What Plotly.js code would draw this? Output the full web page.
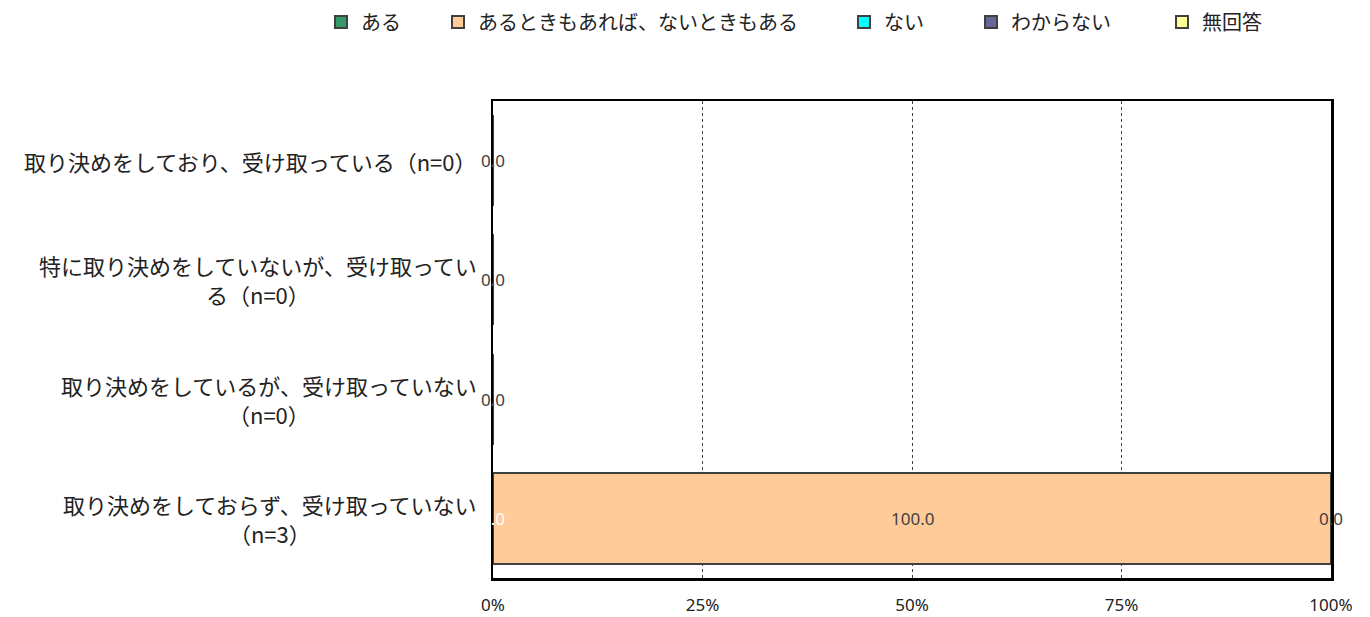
<!DOCTYPE html>
<html>
<head>
<meta charset="utf-8">
<script src="https://cdn.plot.ly/plotly-3.0.1.min.js"></script>
<style>
  html, body { margin: 0; padding: 0; background: #ffffff; }
  #chart { width: 1370px; height: 617px; }
</style>
</head>
<body>
<div id="chart"></div>
<script>
// ---- data ----
const categories = [
  "取り決めをしており、受け取っている（n=0）",
  "特に取り決めをしていないが、受け取ってい<br>る（n=0）",
  "取り決めをしているが、受け取っていない<br>（n=0）",
  "取り決めをしておらず、受け取っていない<br>（n=3）"
];
const seriesNames = ["ある", "あるときもあれば、ないときもある", "ない", "わからない", "無回答"];
const aru        = [0, 0, 0, 0];
const arutokimo  = [0, 0, 0, 100];
const nai        = [0, 0, 0, 0];
const wakaranai  = [0, 0, 0, 0];
const mukaito    = [0, 0, 0, 0];
const tickVals   = [0, 25, 50, 75, 100];
const tickText   = ["0%", "25%", "50%", "75%", "100%"];

// ---- styles ----
const seriesValues = [aru, arutokimo, nai, wakaranai, mukaito];
const colors = ["#339966", "#FFCC99", "#00FFFF", "#666699", "#FFFF99"];
const labelColors = ["#ffffff", "#404040", "#404040", "#404040", "#404040"];
const legendNames = ["legend", "legend2", "legend3", "legend4", "legend5"];
const legendPx = [321, 438, 844, 971, 1162];

const plotLeft = 493, plotRight = 1331, plotTop = 101, plotBottom = 578;
const plotW = plotRight - plotLeft, plotH = plotBottom - plotTop;

const traces = seriesValues.map((vals, i) => ({
  type: "bar",
  orientation: "h",
  name: seriesNames[i],
  y: categories,
  x: vals,
  marker: { color: colors[i], line: { color: "#404040", width: 2 } },
  legend: legendNames[i],
  hoverinfo: "name+x"
}));

// data labels at segment centres (one label per distinct spot/colour)
const annotations = [];
const seen = new Set();
const cum = categories.map(() => 0);
seriesValues.forEach((vals, i) => {
  vals.forEach((v, j) => {
    const cx = cum[j] + v / 2;
    const key = cx + "|" + j + "|" + labelColors[i];
    cum[j] += v;
    if (seen.has(key)) return;
    seen.add(key);
    annotations.push({
      x: cx, y: categories[j], xref: "x", yref: "y",
      text: v.toFixed(1), showarrow: false,
      font: { family: "Noto Sans, sans-serif", size: 17, color: labelColors[i] },
      xanchor: "center", yanchor: "middle"
    });
  });
});
// category labels (centre-aligned lines)
categories.forEach((c) => {
  annotations.push({
    x: -14 / plotW, xref: "paper", y: c, yref: "y",
    text: c, showarrow: false, align: "center",
    xanchor: "right", yanchor: "middle",
    font: { family: "Noto Sans CJK JP, sans-serif", size: 22, color: "#222222" }
  });
});

const layout = {
  width: 1370, height: 617,
  margin: { l: plotLeft, r: 1370 - plotRight, t: plotTop, b: 617 - plotBottom, pad: 0, autoexpand: false },
  paper_bgcolor: "#ffffff", plot_bgcolor: "#ffffff",
  barmode: "stack",
  bargap: 0.235,
  showlegend: true,
  font: { family: "Noto Sans CJK JP, sans-serif", color: "#222222" },
  xaxis: {
    range: [0, 100], tickvals: tickVals, ticktext: tickText,
    showgrid: true, gridcolor: "#404040", griddash: "dot", gridwidth: 1,
    showline: true, linecolor: "#000000", linewidth: 2.5, mirror: true,
    zeroline: false, ticks: "", ticklabelstandoff: 10,
    tickfont: { family: "Noto Sans, sans-serif", size: 17, color: "#222222" },
    fixedrange: true, automargin: false
  },
  yaxis: {
    type: "category", autorange: "reversed",
    showticklabels: false, showgrid: false,
    showline: true, linecolor: "#000000", linewidth: 2.5, mirror: true,
    zeroline: false, ticks: "", fixedrange: true, automargin: false
  },
  annotations: annotations
};
legendNames.forEach((ln, i) => {
  layout[ln] = {
    orientation: "h", x: (legendPx[i] - plotLeft) / plotW, xanchor: "left",
    y: (plotBottom - 22) / plotH, yanchor: "middle",
    bgcolor: "rgba(0,0,0,0)", borderwidth: 0,
    font: { family: "Noto Sans CJK JP, sans-serif", size: 20, color: "#222222" },
    itemclick: false, itemdoubleclick: false
  };
});

Plotly.newPlot("chart", traces, layout, { displayModeBar: false, staticPlot: true });
</script>
</body>
</html>
